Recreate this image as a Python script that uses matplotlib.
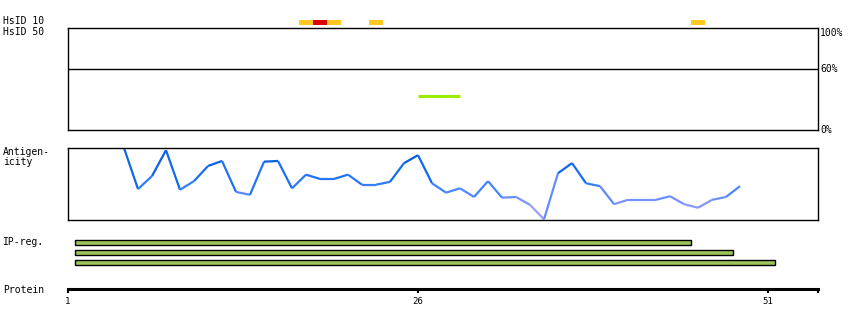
import numpy as np
import matplotlib
matplotlib.use('Agg')
import matplotlib.pyplot as plt
from matplotlib.collections import LineCollection
from matplotlib.colors import LinearSegmentedColormap

# --- data ---
seq_len = 54.57          # axis end, in residues
tick_pos = [1, 26, 51]
tick_labels = ['1', '26', '51']

hs10_res = [18, 19, 20, 23, 46]
hs10_col = ['#ffc820', '#dd0000', '#ffc820', '#ffc820', '#ffc820']

hs50_start = [26.0]
hs50_end = [29.0]
hs50_val = [33]

ant_res = np.arange(5, 50)
ant_val = [1.00, 0.43, 0.61, 0.97, 0.42, 0.54, 0.75, 0.82, 0.39, 0.35,
           0.81, 0.82, 0.44, 0.63, 0.57, 0.57, 0.63, 0.49, 0.49, 0.53,
           0.79, 0.90, 0.51, 0.38, 0.44, 0.32, 0.54, 0.31, 0.32, 0.21,
           0.01, 0.65, 0.79, 0.51, 0.47, 0.22, 0.28, 0.28, 0.28, 0.33,
           0.22, 0.17, 0.28, 0.32, 0.47]

ip_start = [1.5, 1.5, 1.5]
ip_end = [45.5, 48.5, 51.5]

W, H = 850, 330
FONT = 'DejaVu Sans Mono'


def px_axes(fig, x0, y0, x1, y1):
    return fig.add_axes([x0 / W, 1 - y1 / H, (x1 - x0) / W, (y1 - y0) / H])


def label(fig, x, y, s, **kw):
    fig.text(x / W, 1 - y / H, s, fontsize=7, family=FONT, va='center', **kw)


fig = plt.figure(figsize=(W / 100, H / 100), dpi=100)

# --- HsID 10 strip ---
ax10 = px_axes(fig, 68, 20, 818, 25)
ax10.bar(hs10_res, 1, width=1, bottom=0, color=hs10_col, linewidth=0)
ax10.set_xlim(1, seq_len)
ax10.set_ylim(0, 1)
ax10.axis('off')

# --- HsID 50 box ---
ax50 = px_axes(fig, 68, 28, 818, 130)
ax50.hlines(hs50_val, hs50_start, hs50_end, color='#99ee00', linewidth=2.2)
ax50.axhline(60, color='black', linewidth=1.0)
ax50.set_xlim(1, seq_len)
ax50.set_ylim(0, 100)
ax50.set_xticks([])
ax50.set_yticks([])
for s in ax50.spines.values():
    s.set_linewidth(1.0)
tr = ax50.get_yaxis_transform()
ax50.text(1.003, 100, '100%', transform=tr, fontsize=7, family=FONT, va='top')
ax50.text(1.003, 60, '60%', transform=tr, fontsize=7, family=FONT, va='center')
ax50.text(1.003, 0, '0%', transform=tr, fontsize=7, family=FONT, va='center')

# --- antigenicity ---
axa = px_axes(fig, 68, 148, 818, 220)
pts = np.column_stack([ant_res, ant_val])
segs = np.stack([pts[:-1], pts[1:]], axis=1)
cmap = LinearSegmentedColormap.from_list(
    'ant', [(0, '#b4a4f4'), (0.25, '#7c94ff'), (0.45, '#3c82ff'),
            (0.7, '#1068ec'), (1, '#0050d0')])
mid = (np.array(ant_val[:-1]) + np.array(ant_val[1:])) / 2
lc = LineCollection(segs, colors=cmap(mid), linewidths=1.6)
axa.add_collection(lc)
axa.set_xlim(1, seq_len)
axa.set_ylim(0, 1)
axa.set_xticks([])
axa.set_yticks([])
for s in axa.spines.values():
    s.set_linewidth(1.0)

# --- IP regions ---
axi = px_axes(fig, 68, 237.3, 818, 267.3)
rows = np.arange(len(ip_start))
axi.barh(rows, np.array(ip_end) - np.array(ip_start), left=ip_start,
         height=0.47, color='#9ec35a', edgecolor='black', linewidth=1.0)
axi.set_xlim(1, seq_len)
axi.set_ylim(2.5, -0.5)
axi.axis('off')

# --- protein axis ---
axp = px_axes(fig, 68, 280, 818, 289)
axp.set_xlim(1, seq_len)
axp.set_yticks([])
for k in ['top', 'left', 'right']:
    axp.spines[k].set_visible(False)
axp.spines['bottom'].set_linewidth(2.2)
axp.set_xticks(tick_pos)
axp.set_xticklabels(tick_labels, fontsize=6.5, family=FONT)
axp.set_xticks([seq_len], minor=True)
axp.tick_params(axis='x', which='both', length=3, width=1.5, pad=2.5)
axp.patch.set_visible(False)

label(fig, 3, 21, 'HsID 10')
label(fig, 3, 32, 'HsID 50')
label(fig, 3, 152, 'Antigen-')
label(fig, 3, 162, 'icity')
label(fig, 3, 242, 'IP-reg.')
label(fig, 3, 290, 'Protein')

fig.savefig('out.png', dpi=100)
